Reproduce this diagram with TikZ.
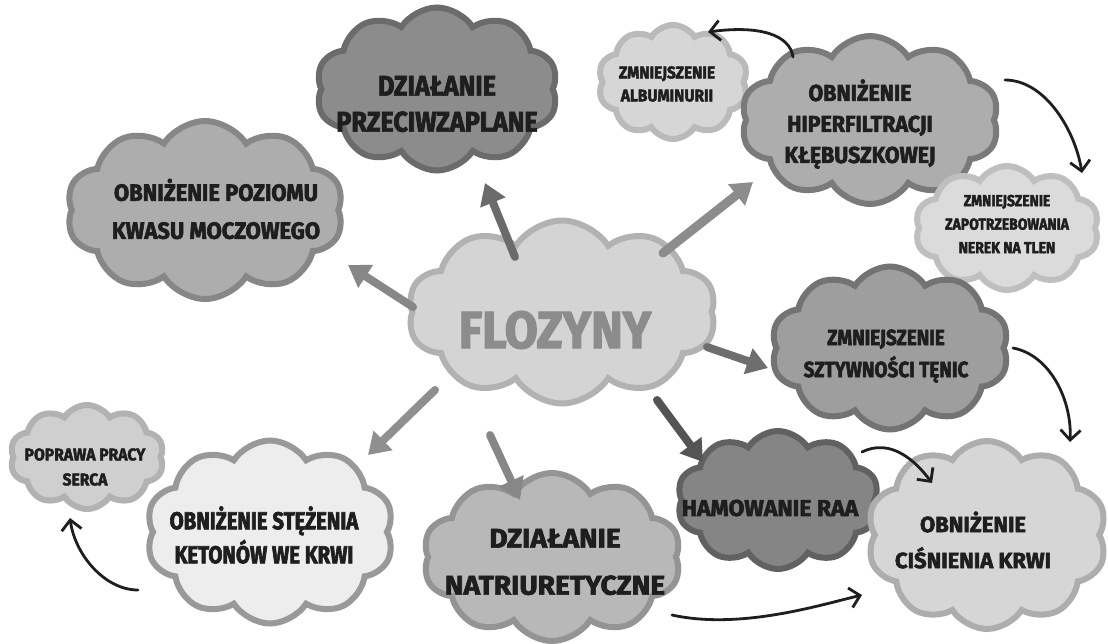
\documentclass[tikz,border=0pt]{standalone}
\usepackage{fontspec}
\setmainfont{Fira Sans}[FakeStretch=0.75, BoldFeatures={FakeBold=2.5}]
\usetikzlibrary{shapes.symbols,arrows.meta}
\definecolor{txtc}{HTML}{1E1E1E}
\definecolor{flotxt}{HTML}{8C8C8C}
\newcommand{\cfont}[3]{\bfseries\fontsize{#1}{#2}\selectfont\addfontfeatures{FakeStretch=#3}}
\tikzset{
  cloudbase/.style={cloud, cloud puffs=10, cloud puff arc=115, line width=6pt, inner sep=0pt, cloud ignores aspect},
  txt/.style={align=center, text=txtc, inner sep=0pt},
  bigarrow/.style={line width=8pt, line cap=round, -{Triangle[length=21pt,width=26pt]}},
  thinarrow/.style={line width=2.8pt, draw=txtc, line cap=round, -{Straight Barb[length=10pt,width=20pt]}},
}
\begin{document}
\begin{tikzpicture}[x=1pt,y=-1pt]
\useasboundingbox (0,0) rectangle (1108,643);
\fill[white] (0,0) rectangle (1108,643);
% clouds
\node[cloudbase, fill=black!45, draw=black!58, minimum width=242pt, minimum height=163pt] (cprz) at (437,89) {};
\node[cloudbase, fill=black!32, draw=black!47, minimum width=277pt, minimum height=178pt] (ckwas) at (205,210) {};
\node[cloudbase, fill=black!16, draw=black!27, minimum width=150pt, minimum height=114pt] (calb) at (673,82) {};
\node[cloudbase, fill=black!32, draw=black!52, minimum width=258pt, minimum height=168pt] (chip) at (870,120) {};
\node[cloudbase, fill=black!14, draw=black!25, minimum width=184pt, minimum height=124pt] (czap) at (1007,228) {};
\node[cloudbase, fill=black!17, draw=black!30, minimum width=308pt, minimum height=183pt] (cflo) at (562,312) {};
\node[cloudbase, fill=black!38, draw=black!55, minimum width=238pt, minimum height=163pt] (cszt) at (890,348) {};
\node[cloudbase, fill=black!48, draw=black!62, minimum width=202pt, minimum height=138pt] (craa) at (778,500) {};
\node[cloudbase, fill=black!16, draw=black!32, minimum width=240pt, minimum height=188pt] (ccis) at (987,535) {};
\node[cloudbase, fill=black!28, draw=black!42, minimum width=258pt, minimum height=168pt] (cnat) at (552,557) {};
\node[cloudbase, fill=black!7, draw=black!40, minimum width=248pt, minimum height=183pt] (cket) at (270,532) {};
\node[cloudbase, fill=black!19, draw=black!30, minimum width=154pt, minimum height=104pt] (cpop) at (87,457) {};
% texts
\node[txt, font=\cfont{28.5}{36}{0.885}] (tprz) at (437,104) {DZIAŁANIE\\PRZECIWZAPLANE};
\node[txt, font=\cfont{23.5}{38}{0.936}] (tkwas) at (216,209) {OBNIŻENIE POZIOMU\\KWASU MOCZOWEGO};
\node[txt, font=\cfont{17}{23}{0.91}] (talb) at (667,84) {ZMNIEJSZENIE\\ALBUMINURII};
\node[txt, font=\cfont{23}{31}{0.93}] (thip) at (860,124) {OBNIŻENIE\\HIPERFILTRACJI\\KŁĘBUSZKOWEJ};
\node[txt, font=\cfont{16}{23.5}{0.87}] (tzap) at (1007,224) {ZMNIEJSZENIE\\ZAPOTRZEBOWANIA\\NEREK NA TLEN};
\node[txt, text=flotxt, font=\cfont{52}{60}{0.92}] (tflo) at (555,330) {FLOZYNY};
\node[txt, font=\cfont{22}{32}{0.86}] (tszt) at (886,356) {ZMNIEJSZENIE\\SZTYWNOŚCI TĘNIC};
\node[txt, font=\cfont{23}{30}{1.0}] (traa) at (770,508) {HAMOWANIE RAA};
\node[txt, font=\cfont{22}{36}{1.0}] (tcis) at (973,540) {OBNIŻENIE\\CIŚNIENIA KRWI};
\node[txt, font=\cfont{27}{47}{1.04}] (tnat) at (555,562) {DZIAŁANIE\\NATRIURETYCZNE};
\node[txt, font=\cfont{24.5}{34}{0.83}] (tket) at (264,535) {OBNIŻENIE STĘŻENIA\\KETONÓW WE KRWI};
\node[txt, font=\cfont{17}{25}{0.92}] (tpop) at (85,467) {POPRAWA PRACY\\SERCA};
% arrow end coordinates
\coordinate (a1s) at (515,257); \coordinate (a1e) at (485,183);
\coordinate (a2s) at (413,307); \coordinate (a2e) at (348,265);
\coordinate (a3s) at (663,253); \coordinate (a3e) at (753,182);
\coordinate (a4s) at (707,347); \coordinate (a4e) at (768,368);
\coordinate (a5s) at (657,400); \coordinate (a5e) at (703,462);
\coordinate (a6s) at (490,435); \coordinate (a6e) at (520,500);
\coordinate (a7s) at (435,390); \coordinate (a7e) at (368,455);
% thick arrows
\draw[bigarrow, draw=black!58, fill=black!58] (a1s) -- (a1e);
\draw[bigarrow, draw=black!47, fill=black!47] (a2s) -- (a2e);
\draw[bigarrow, line width=9pt, draw=black!45, fill=black!45] (a3s) -- (a3e);
\draw[bigarrow, draw=black!57, fill=black!57] (a4s) -- (a4e);
\draw[bigarrow, draw=black!67, fill=black!67] (a5s) -- (a5e);
\draw[bigarrow, draw=black!47, fill=black!47] (a6s) -- (a6e);
\draw[bigarrow, draw=black!44, fill=black!44] (a7s) -- (a7e);
% thin curved arrows
\coordinate (b1s) at (793,57); \coordinate (b1e) at (708,32);
\coordinate (b2s) at (1005,80); \coordinate (b2e) at (1082,173);
\coordinate (b3s) at (1013,348); \coordinate (b3e) at (1070,442);
\coordinate (b4s) at (862,452); \coordinate (b4e) at (932,483);
\coordinate (b5s) at (672,615); \coordinate (b5e) at (862,595);
\coordinate (b6s) at (138,590); \coordinate (b6e) at (70,518);
\draw[thinarrow] (b1s) .. controls (790,35) and (760,25) .. (b1e);
\draw[thinarrow] (b2s) .. controls (1045,80) and (1075,130) .. (b2e);
\draw[thinarrow] (b3s) .. controls (1050,355) and (1072,400) .. (b3e);
\draw[thinarrow] (b4s) .. controls (890,438) and (915,460) .. (b4e);
\draw[thinarrow] (b5s) .. controls (740,630) and (820,605) .. (b5e);
\draw[thinarrow] (b6s) .. controls (105,590) and (75,555) .. (b6e);
\end{tikzpicture}
\end{document}
